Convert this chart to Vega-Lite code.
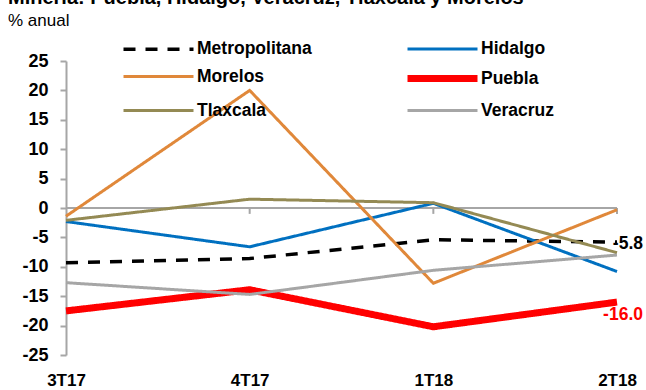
{
  "$schema": "https://vega.github.io/schema/vega-lite/v6.json",
  "autosize": {"type": "none"},
  "width": 551,
  "height": 294,
  "padding": {"left": 66, "top": 61, "right": 29, "bottom": 35},
  "background": "white",
  "title": {
    "text": "Minería: Puebla, Hidalgo, Veracruz, Tlaxcala y Morelos",
    "subtitle": "% anual",
    "anchor": "start",
    "frame": "group",
    "dx": -58,
    "font": "Liberation Sans",
    "fontSize": 20,
    "fontWeight": "bold",
    "color": "black",
    "subtitleFont": "Liberation Sans",
    "subtitleFontSize": 17,
    "subtitleColor": "black",
    "subtitlePadding": 5,
    "offset": 8
  },
  "config": {
    "view": {"stroke": null},
    "font": "Liberation Sans"
  },
  "datasets": {
    "main": [
      {"q": "3T17", "series": "Metropolitana", "v": -9.3},
      {"q": "4T17", "series": "Metropolitana", "v": -8.6},
      {"q": "1T18", "series": "Metropolitana", "v": -5.4},
      {"q": "2T18", "series": "Metropolitana", "v": -5.8},
      {"q": "3T17", "series": "Hidalgo", "v": -2.3},
      {"q": "4T17", "series": "Hidalgo", "v": -6.6},
      {"q": "1T18", "series": "Hidalgo", "v": 0.8},
      {"q": "2T18", "series": "Hidalgo", "v": -10.8},
      {"q": "3T17", "series": "Morelos", "v": -1.4},
      {"q": "4T17", "series": "Morelos", "v": 20.0},
      {"q": "1T18", "series": "Morelos", "v": -12.8},
      {"q": "2T18", "series": "Morelos", "v": -0.3},
      {"q": "3T17", "series": "Puebla", "v": -17.5},
      {"q": "4T17", "series": "Puebla", "v": -13.9},
      {"q": "1T18", "series": "Puebla", "v": -20.2},
      {"q": "2T18", "series": "Puebla", "v": -16.0},
      {"q": "3T17", "series": "Tlaxcala", "v": -2.1},
      {"q": "4T17", "series": "Tlaxcala", "v": 1.5},
      {"q": "1T18", "series": "Tlaxcala", "v": 0.9},
      {"q": "2T18", "series": "Tlaxcala", "v": -7.6},
      {"q": "3T17", "series": "Veracruz", "v": -12.7},
      {"q": "4T17", "series": "Veracruz", "v": -14.7},
      {"q": "1T18", "series": "Veracruz", "v": -10.6},
      {"q": "2T18", "series": "Veracruz", "v": -8.0}
    ],
    "zero": [{"v": 0}],
    "ticks": [
      {"q": "4T17", "v": 0, "b": -1.0},
      {"q": "1T18", "v": 0, "b": -1.0},
      {"q": "2T18", "v": 0, "b": -1.0}
    ]
  },
  "encoding": {
    "x": {
      "field": "q",
      "type": "ordinal",
      "sort": ["3T17", "4T17", "1T18", "2T18"],
      "scale": {"type": "point", "padding": 0, "domain": ["3T17", "4T17", "1T18", "2T18"]},
      "axis": {
        "title": null,
        "domain": false,
        "ticks": false,
        "labelAngle": 0,
        "labelFontSize": 17,
        "labelFontWeight": "bold",
        "labelColor": "black",
        "labelPadding": 17
      }
    },
    "y": {
      "field": "v",
      "type": "quantitative",
      "scale": {"domain": [-25, 25], "nice": false},
      "axis": {
        "title": null,
        "values": [-25, -20, -15, -10, -5, 0, 5, 10, 15, 20, 25],
        "labelExpr": "replace(datum.label, '\u2212', '-')",
        "labelOverlap": false,
        "grid": false,
        "domainColor": "#A6A6A6",
        "domainWidth": 2,
        "tickColor": "#A6A6A6",
        "tickWidth": 2,
        "tickSize": 6,
        "labelFontSize": 18,
        "labelFontWeight": "bold",
        "labelColor": "black",
        "labelPadding": 12
      }
    }
  },
  "layer": [
    {
      "data": {"name": "zero"},
      "mark": {"type": "rule", "color": "#A6A6A6", "strokeWidth": 2},
      "encoding": {"x": null}
    },
    {
      "data": {"name": "ticks"},
      "mark": {"type": "rule", "color": "#A6A6A6", "strokeWidth": 2},
      "encoding": {"y2": {"field": "b"}}
    },
    {
      "data": {"name": "main"},
      "mark": {"type": "line", "strokeCap": "butt"},
      "encoding": {
        "color": {
          "field": "series",
          "type": "nominal",
          "scale": {
            "domain": ["Metropolitana", "Hidalgo", "Morelos", "Puebla", "Tlaxcala", "Veracruz"],
            "range": ["#000000", "#0070C0", "#E0883A", "#FF0000", "#948A54", "#A6A6A6"]
          },
          "legend": {
            "title": null,
            "orient": "none",
            "direction": "horizontal",
            "legendX": 79,
            "legendY": -24,
            "columns": 2,
            "columnPadding": 81,
            "rowPadding": 6,
            "padding": 0,
            "symbolType": "M-3.5,0H3.5",
            "symbolSize": 400,
            "labelOffset": 25,
            "labelFontSize": 17.5,
            "labelFontWeight": "bold",
            "labelColor": "black",
            "labelLimit": 300
          }
        },
        "strokeDash": {
          "field": "series",
          "type": "nominal",
          "scale": {
            "domain": ["Metropolitana", "Hidalgo", "Morelos", "Puebla", "Tlaxcala", "Veracruz"],
            "range": [[12, 10], [1, 0], [1, 0], [1, 0], [1, 0], [1, 0]]
          },
          "legend": null
        },
        "strokeWidth": {
          "field": "series",
          "type": "nominal",
          "scale": {
            "type": "ordinal",
            "domain": ["Metropolitana", "Hidalgo", "Morelos", "Puebla", "Tlaxcala", "Veracruz"],
            "range": [3.5, 3, 3, 7, 3, 3]
          },
          "legend": null
        }
      }
    },
    {
      "data": {"name": "main"},
      "transform": [
        {"filter": "datum.series === 'Metropolitana' && datum.q === '2T18'"},
        {"calculate": "replace(format(datum.v, '.1f'), '\u2212', '-')", "as": "lbl"}
      ],
      "mark": {"type": "text", "align": "right", "baseline": "middle", "dx": 26, "dy": 2, "fontSize": 17.5, "fontWeight": "bold", "color": "black"},
      "encoding": {
        "text": {"field": "lbl", "type": "nominal"}
      }
    },
    {
      "data": {"name": "main"},
      "transform": [
        {"filter": "datum.series === 'Puebla' && datum.q === '2T18'"},
        {"calculate": "replace(format(datum.v, '.1f'), '\u2212', '-')", "as": "lbl"}
      ],
      "mark": {"type": "text", "align": "right", "baseline": "middle", "dx": 26, "dy": 13, "fontSize": 17.5, "fontWeight": "bold", "color": "#FF0000"},
      "encoding": {
        "text": {"field": "lbl", "type": "nominal"}
      }
    }
  ]
}
